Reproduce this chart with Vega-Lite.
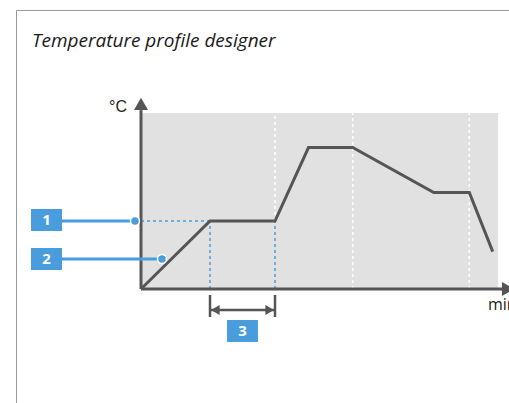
{
  "$schema": "https://vega.github.io/schema/vega-lite/v6.json",
  "width": 509,
  "height": 403,
  "padding": 0,
  "autosize": "none",
  "background": "white",
  "config": {"view": {"stroke": null}},
  "datasets": {
    "frame": [
      {"t": -18.58, "T": 409.6, "t2": 54.93, "T2": 409.6},
      {"t": -18.58, "T": 409.6, "t2": -18.58, "T2": -167.6}
    ],
    "area": [{"t": 0, "T": 0, "t2": 53.3, "T2": 259}],
    "whiteDash": [
      {"t": 20, "T": 100, "t2": 20, "T2": 259},
      {"t": 31.6, "T": 0, "t2": 31.6, "T2": 259},
      {"t": 49, "T": 0, "t2": 49, "T2": 259}
    ],
    "blueDash": [
      {"t": 0, "T": 100, "t2": 10.3, "T2": 100},
      {"t": 10.3, "T": 0, "t2": 10.3, "T2": 100},
      {"t": 20, "T": 0, "t2": 20, "T2": 100}
    ],
    "profile": [
      {"t": 0, "T": 0},
      {"t": 10.3, "T": 100},
      {"t": 20, "T": 100},
      {"t": 25, "T": 208},
      {"t": 31.6, "T": 208},
      {"t": 43.7, "T": 142},
      {"t": 49, "T": 142},
      {"t": 52.5, "T": 55}
    ],
    "axes": [
      {"t": 0, "T": 0, "t2": 0, "T2": 263},
      {"t": 0, "T": 0, "t2": 53.9, "T2": 0}
    ],
    "axisArrows": [
      {"t": 0, "T": 272.2, "dir": "up"},
      {"t": 54.78, "T": 0, "dir": "right"}
    ],
    "dimLines": [
      {"t": 10.45, "T": -30.9, "t2": 19.85, "T2": -30.9},
      {"t": 10.3, "T": -8.8, "t2": 10.3, "T2": -41.2},
      {"t": 20, "T": -8.8, "t2": 20, "T2": -41.2}
    ],
    "dimArrows": [
      {"t": 11.09, "T": -30.9, "dir": "left"},
      {"t": 19.21, "T": -30.9, "dir": "right"}
    ],
    "leaders": [
      {"t": -11.79, "T": 100, "t2": -0.9, "T2": 100},
      {"t": -11.79, "T": 44.1, "t2": 3.13, "T2": 44.1}
    ],
    "dots": [
      {"t": -0.9, "T": 100},
      {"t": 3.13, "T": 44.1}
    ],
    "boxes": [
      {"t": -16.42, "t2": -11.79, "T": 85.3, "T2": 117.6},
      {"t": -16.42, "t2": -11.79, "T": 27.9, "T2": 60.3},
      {"t": 12.84, "t2": 17.46, "T": -77.9, "T2": -45.6}
    ],
    "boxLabels": [
      {"label": "1", "t": -14.1, "T": 101.0},
      {"label": "2", "t": -14.1, "T": 43.6},
      {"label": "3", "t": 15.15, "T": -62.3}
    ],
    "unitY": [{"label": "°C", "t": -2.09, "T": 260.7}],
    "unitX": [{"label": "min", "t": 51.79, "T": -30.9}],
    "title": [{"label": "Temperature profile designer", "t": -16.27, "T": 356.5}]
  },
  "encoding": {
    "x": {"field": "t", "type": "quantitative", "scale": {"domain": [-21.0448, 54.9254], "nice": false, "zero": false}, "axis": null},
    "y": {"field": "T", "type": "quantitative", "scale": {"domain": [-167.647, 425], "nice": false, "zero": false}, "axis": null}
  },
  "layer": [
    {
      "data": {"name": "frame"},
      "mark": {"type": "rule", "color": "#9a9a9a", "strokeWidth": 1},
      "encoding": {"x2": {"field": "t2"}, "y2": {"field": "T2"}}
    },
    {
      "data": {"name": "area"},
      "mark": {"type": "rect", "color": "#e1e1e1"},
      "encoding": {"x2": {"field": "t2"}, "y2": {"field": "T2"}}
    },
    {
      "data": {"name": "whiteDash"},
      "mark": {"type": "rule", "color": "#ffffff", "strokeWidth": 1.5, "strokeDash": [3, 3]},
      "encoding": {"x2": {"field": "t2"}, "y2": {"field": "T2"}}
    },
    {
      "data": {"name": "blueDash"},
      "mark": {"type": "rule", "color": "#4a9ddc", "strokeWidth": 1.5, "strokeDash": [3, 3]},
      "encoding": {"x2": {"field": "t2"}, "y2": {"field": "T2"}}
    },
    {
      "data": {"name": "profile"},
      "mark": {"type": "line", "color": "#555555", "strokeWidth": 3, "strokeJoin": "miter"},
      "encoding": {"order": {"field": "t", "type": "quantitative"}}
    },
    {
      "data": {"name": "axes"},
      "mark": {"type": "rule", "color": "#555555", "strokeWidth": 3},
      "encoding": {"x2": {"field": "t2"}, "y2": {"field": "T2"}}
    },
    {
      "data": {"name": "axisArrows"},
      "mark": {"type": "point", "filled": true, "color": "#555555", "size": 196, "opacity": 1},
      "encoding": {"shape": {"field": "dir", "type": "nominal", "scale": {"domain": ["up", "right", "left"], "range": ["triangle-up", "triangle-right", "triangle-left"]}, "legend": null}}
    },
    {
      "data": {"name": "dimLines"},
      "mark": {"type": "rule", "color": "#555555", "strokeWidth": 2.5},
      "encoding": {"x2": {"field": "t2"}, "y2": {"field": "T2"}}
    },
    {
      "data": {"name": "dimArrows"},
      "mark": {"type": "point", "filled": true, "color": "#555555", "size": 100, "opacity": 1},
      "encoding": {"shape": {"field": "dir", "type": "nominal", "scale": {"domain": ["up", "right", "left"], "range": ["triangle-up", "triangle-right", "triangle-left"]}, "legend": null}}
    },
    {
      "data": {"name": "leaders"},
      "mark": {"type": "rule", "color": "#4a9ddc", "strokeWidth": 3},
      "encoding": {"x2": {"field": "t2"}, "y2": {"field": "T2"}}
    },
    {
      "data": {"name": "dots"},
      "mark": {"type": "point", "filled": true, "shape": "circle", "color": "#4a9ddc", "size": 80, "opacity": 1, "stroke": "#ffffff", "strokeWidth": 1.5}
    },
    {
      "data": {"name": "boxes"},
      "mark": {"type": "rect", "color": "#4a9ddc"},
      "encoding": {"x2": {"field": "t2"}, "y2": {"field": "T2"}}
    },
    {
      "data": {"name": "boxLabels"},
      "mark": {"type": "text", "color": "#ffffff", "font": "Open Sans", "fontWeight": "bold", "fontSize": 15, "align": "center", "baseline": "middle"},
      "encoding": {"text": {"field": "label"}}
    },
    {
      "data": {"name": "unitY"},
      "mark": {"type": "text", "color": "#222222", "font": "Liberation Sans", "fontSize": 16, "align": "right", "baseline": "alphabetic"},
      "encoding": {"text": {"field": "label"}}
    },
    {
      "data": {"name": "unitX"},
      "mark": {"type": "text", "color": "#222222", "font": "Open Sans", "fontSize": 16, "align": "left", "baseline": "alphabetic"},
      "encoding": {"text": {"field": "label"}}
    },
    {
      "data": {"name": "title"},
      "mark": {"type": "text", "color": "#1a1a1a", "font": "Open Sans", "fontStyle": "italic", "fontSize": 19, "align": "left", "baseline": "alphabetic"},
      "encoding": {"text": {"field": "label"}}
    }
  ]
}
